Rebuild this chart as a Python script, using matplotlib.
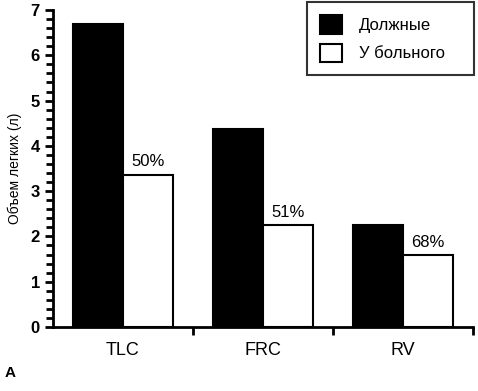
import numpy as np
import matplotlib
matplotlib.use('Agg')
import matplotlib.pyplot as plt
from matplotlib.ticker import MultipleLocator, FixedLocator

categories = ["TLC", "FRC", "RV"]
predicted = [6.68, 4.37, 2.25]
patient = [3.36, 2.25, 1.58]
pct_labels = ["50%", "51%", "68%"]

plt.rcParams['font.family'] = ['Liberation Sans', 'DejaVu Sans']

fig = plt.figure(figsize=(4.78, 3.91), dpi=100)
ax = fig.add_axes([53 / 478, 1 - 327 / 391, 420 / 478, 317 / 391])

x = np.arange(len(categories))
w = 0.355
ax.bar(x - w / 2, predicted, w, color='black', edgecolor='black', linewidth=1.5, label='Должные')
ax.bar(x + w / 2, patient, w, color='white', edgecolor='black', linewidth=1.5, label='У больного')

for xi, v, t in zip(x, patient, pct_labels):
    ax.text(xi + w / 2, v + 0.12, t, ha='center', va='bottom', fontsize=12)

ax.set_xlim(-0.5, 2.5)
ax.set_ylim(0, 7)
ax.spines['top'].set_visible(False)
ax.spines['right'].set_visible(False)
ax.spines['left'].set_linewidth(2)
ax.spines['bottom'].set_linewidth(2)

ax.yaxis.set_major_locator(MultipleLocator(1))
ax.yaxis.set_minor_locator(MultipleLocator(0.2))
ax.tick_params(axis='y', which='major', length=6, width=2, labelsize=12, direction='out')
ax.tick_params(axis='y', which='minor', length=5, width=2, direction='out')
for lbl in ax.get_yticklabels():
    lbl.set_fontweight('bold')

ax.xaxis.set_major_locator(FixedLocator([0.5, 1.5, 2.5]))
ax.xaxis.set_minor_locator(FixedLocator(x))
ax.tick_params(axis='x', which='major', length=6, width=2, labelbottom=False)
ax.tick_params(axis='x', which='minor', length=0, labelsize=13, pad=11)
ax.set_xticklabels(categories, minor=True)

ax.set_ylabel('Объем легких (л)', fontsize=10, labelpad=6)

leg = ax.legend(loc='upper left', bbox_to_anchor=(0.605, 0.789, 0.398, 0.236), mode='expand',
                frameon=True, fancybox=False,
                edgecolor='black', fontsize=12, handlelength=1.3, handleheight=1.3,
                borderpad=0.8, labelspacing=0.6, handletextpad=1.0, borderaxespad=0)
leg.get_frame().set_linewidth(1.5)

fig.text(5 / 478, 1 - 373 / 391, 'A', fontsize=11, fontweight='bold', va='center')

fig.savefig('out.png', dpi=100)
